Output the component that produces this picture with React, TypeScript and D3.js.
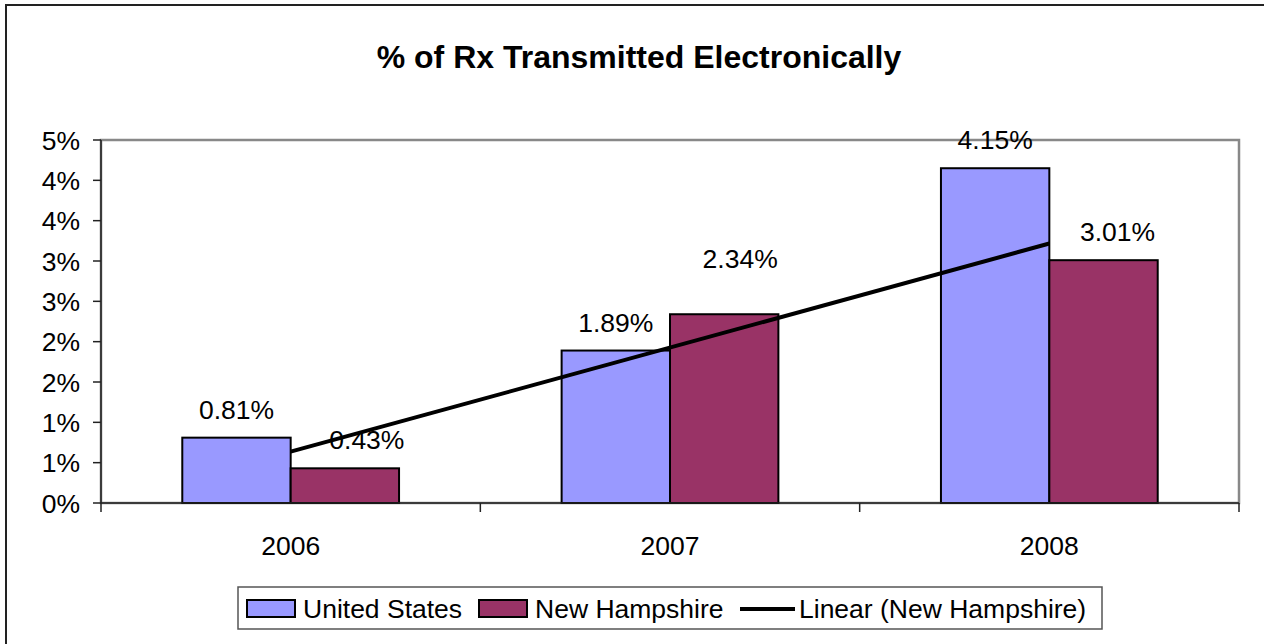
import React from "react";
import * as d3 from "d3";

const title = "% of Rx Transmitted Electronically";
const years = ["2006", "2007", "2008"];
const seriesNames = ["United States", "New Hampshire"];
const usValues = [0.81, 1.89, 4.15];
const nhValues = [0.43, 2.34, 3.01];
const yTicks = [0, 0.5, 1, 1.5, 2, 2.5, 3, 3.5, 4, 4.5];
const trendName = "Linear (New Hampshire)";

// label nudges (styling only)
const labelDx = [[0, 0, 0], [22, 16, 14]];
const labelDy = [[0, 0, 0], [0, -27, 0]];

const colors = ["#9999FF", "#993366"];
const FONT = "'Liberation Sans', Arial, sans-serif";

export default function App() {
  const W = 1264, H = 644;
  const left = 101, right = 1239, top = 140, bottom = 503;
  const x = d3.scaleBand<string>().domain(years).range([left, right]).padding(0);
  const bw = x.bandwidth();
  const barW = bw / 3.5;
  const inner = d3.scaleBand<string>().domain(seriesNames).range([-barW, barW]).padding(0);
  const y = d3.scaleLinear().domain([0, 4.5]).range([bottom, top]);
  const series = [usValues, nhValues];

  // linear trend for NH
  const xs = nhValues.map((_, i) => i + 1);
  const mx = d3.mean(xs)!;
  const my = d3.mean(nhValues)!;
  const slope = d3.sum(xs.map((xv, i) => (xv - mx) * (nhValues[i] - my))) / d3.sum(xs.map((xv) => (xv - mx) ** 2));
  const intercept = my - slope * mx;
  const trendPts: [number, number][] = [
    [x(years[0])! + bw / 2, y(intercept + slope * 1)],
    [x(years[years.length - 1])! + bw / 2, y(intercept + slope * years.length)],
  ];

  const fs = 26.5;

  return (
    <svg width={W} height={H} style={{ position: "absolute", left: 0, top: 0 }} fontFamily={FONT}>
      <rect x={0} y={0} width={W} height={H} fill="#fff" />
      <rect x={6} y={5} width={1400} height={800} fill="none" stroke="#222" strokeWidth={2} />
      <text x={639} y={68} textAnchor="middle" fontSize={32} fontWeight="bold">{title}</text>

      {/* plot area border */}
      <rect x={left} y={top} width={right - left} height={bottom - top} fill="none" stroke="#888" strokeWidth={2.5} />

      {/* bars */}
      {series.map((vals, si) =>
        vals.map((v, i) => {
          const cx = x(years[i])! + bw / 2 + inner(seriesNames[si])!;
          return (
            <rect key={`b${si}-${i}`} x={cx} y={y(v)} width={barW} height={bottom - y(v)}
              fill={colors[si]} stroke="#000" strokeWidth={2} />
          );
        })
      )}

      {/* axes */}
      <line x1={left} x2={left} y1={top} y2={bottom} stroke="#222" strokeWidth={1.5} />
      <line x1={left} x2={right} y1={bottom} y2={bottom} stroke="#222" strokeWidth={1.5} />
      {yTicks.map((t) => (
        <g key={`yt${t}`}>
          <line x1={left - 8} x2={left} y1={y(t)} y2={y(t)} stroke="#222" strokeWidth={1.5} />
          <text x={80} y={y(t) + 9.5} textAnchor="end" fontSize={fs}>{Math.round(t) + "%"}</text>
        </g>
      ))}
      {[...years.map((yr) => x(yr)!), right].map((px, i) => (
        <line key={`xt${i}`} x1={px} x2={px} y1={bottom} y2={bottom + 9} stroke="#222" strokeWidth={1.5} />
      ))}
      {years.map((yr) => (
        <text key={`xl${yr}`} x={x(yr)! + bw / 2} y={555} textAnchor="middle" fontSize={fs}>{yr}</text>
      ))}

      {/* data labels */}
      {series.map((vals, si) =>
        vals.map((v, i) => {
          const cx = x(years[i])! + bw / 2 + inner(seriesNames[si])! + barW / 2;
          return (
            <text key={`l${si}-${i}`} x={cx + labelDx[si][i]} y={y(v) - 19 + labelDy[si][i]}
              textAnchor="middle" fontSize={fs}>{v.toFixed(2) + "%"}</text>
          );
        })
      )}

      {/* trend line */}
      <line x1={trendPts[0][0]} y1={trendPts[0][1]} x2={trendPts[1][0]} y2={trendPts[1][1]}
        stroke="#000" strokeWidth={4} />

      {/* legend */}
      <rect x={238} y={587} width={864} height={42} fill="#fff" stroke="#555" strokeWidth={1.5} />
      <rect x={247} y={600} width={48} height={17} fill={colors[0]} stroke="#000" strokeWidth={2} />
      <text x={303} y={618} fontSize={fs}>{seriesNames[0]}</text>
      <rect x={479} y={600} width={48} height={17} fill={colors[1]} stroke="#000" strokeWidth={2} />
      <text x={535} y={618} fontSize={fs}>{seriesNames[1]}</text>
      <line x1={740} x2={795} y1={609} y2={609} stroke="#000" strokeWidth={4} />
      <text x={799} y={618} fontSize={fs}>{trendName}</text>
    </svg>
  );
}
